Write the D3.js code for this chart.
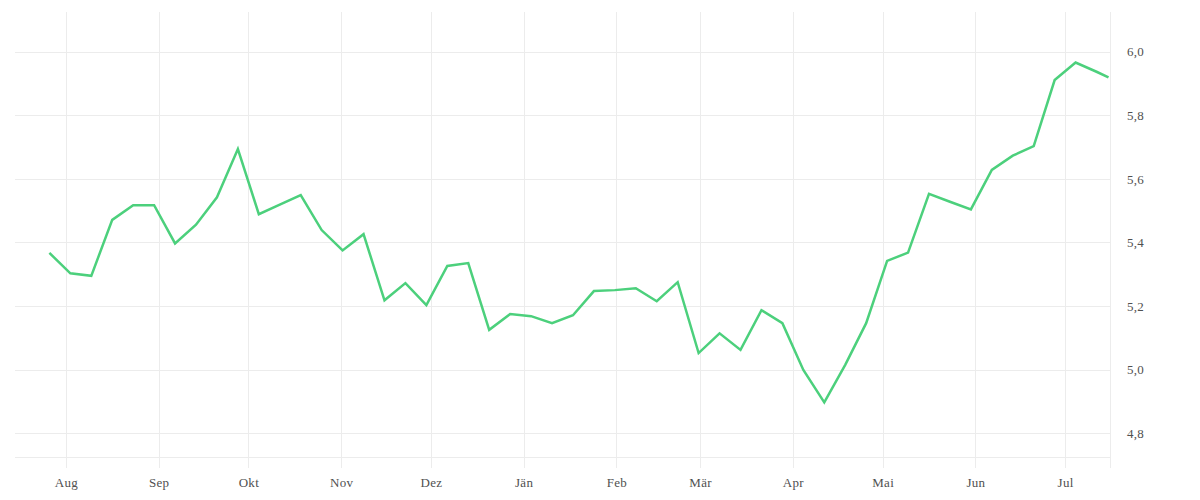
<!DOCTYPE html>
<html>
<head>
<meta charset="utf-8">
<script src="https://cdn.jsdelivr.net/npm/d3@7"></script>
<style>
  html, body { margin: 0; padding: 0; background: #fff; }
  svg { display: block; }
  text { font-family: "Liberation Serif", "DejaVu Serif", serif; }
</style>
</head>
<body>
<svg id="chart" width="1200" height="500"></svg>
<script>
// ---- data ----
const startDate = "2022-07-26 12:00";     // first weekly observation
const lastDate = "2023-07-15 12:00";      // latest (partial week) observation
const values = [
  5.367, 5.303, 5.295, 5.471, 5.517, 5.517, 5.397, 5.456, 5.542, 5.694,
  5.489, 5.519, 5.549, 5.439, 5.375, 5.426, 5.218, 5.272, 5.203, 5.326,
  5.335, 5.125, 5.175, 5.168, 5.146, 5.171, 5.247, 5.250, 5.256, 5.215,
  5.275, 5.052, 5.114, 5.062, 5.187, 5.146, 4.999, 4.897, 5.015, 5.146,
  5.342, 5.368, 5.553, 5.528, 5.504, 5.628, 5.673, 5.703, 5.911, 5.966,
  5.937, 5.919
];
const monthTickDates = ["2022-08-01 00:00","2022-09-01 00:00","2022-10-01 00:00","2022-11-01 00:00",
                        "2022-12-01 00:00","2023-01-01 00:00","2023-02-01 00:00","2023-03-01 00:00",
                        "2023-04-01 00:00","2023-05-01 00:00","2023-06-01 00:00","2023-07-01 00:00"];
const monthLabels = ["Aug","Sep","Okt","Nov","Dez","Jän","Feb","Mär","Apr","Mai","Jun","Jul"];
const yTicks = [4.8, 5.0, 5.2, 5.4, 5.6, 5.8, 6.0];
const xDomain = ["2022-07-15 00:00", "2023-07-16 00:00"];
const yDomain = [4.725, 6.125];

// ---- build dated series ----
const parse = d3.timeParse("%Y-%m-%d %H:%M");
const t0 = parse(startDate);
const data = values.map((v, i) => {
  const d = i === values.length - 1 ? parse(lastDate) : d3.timeDay.offset(t0, 7 * i);
  return { date: d, value: v };
});

// ---- layout ----
const svg = d3.select("#chart");
const plotLeft = 15, plotRight = 1110, plotTop = 12, plotBottom = 457;

const x = d3.scaleTime().domain(xDomain.map(parse)).range([plotLeft, plotRight]);
const y = d3.scaleLinear().domain(yDomain).range([plotBottom, plotTop]);

const gridColor = "#ececec";
const g = svg.append("g");

// horizontal grid lines
g.selectAll("line.hgrid").data(yTicks).join("line")
  .attr("x1", plotLeft).attr("x2", plotRight)
  .attr("y1", d => Math.round(y(d)) + 0.5).attr("y2", d => Math.round(y(d)) + 0.5)
  .attr("stroke", gridColor).attr("stroke-width", 1);

// bottom boundary line
g.append("line")
  .attr("x1", plotLeft).attr("x2", plotRight)
  .attr("y1", plotBottom + 0.5).attr("y2", plotBottom + 0.5)
  .attr("stroke", gridColor).attr("stroke-width", 1);

// vertical grid lines (extend below as ticks)
const tickDates = monthTickDates.map(parse);
g.selectAll("line.vgrid").data(tickDates).join("line")
  .attr("x1", d => Math.round(x(d)) + 0.5).attr("x2", d => Math.round(x(d)) + 0.5)
  .attr("y1", plotTop).attr("y2", plotBottom + 11)
  .attr("stroke", gridColor).attr("stroke-width", 1);

// right border
g.append("line")
  .attr("x1", plotRight + 0.5).attr("x2", plotRight + 0.5)
  .attr("y1", plotTop).attr("y2", plotBottom + 11)
  .attr("stroke", gridColor).attr("stroke-width", 1);

// x axis labels
const xAxis = d3.axisBottom(x).tickValues(tickDates)
  .tickFormat((d, i) => monthLabels[i]).tickSize(0).tickPadding(0);
const xg = svg.append("g").attr("transform", `translate(0, ${plotBottom + 21})`).call(xAxis);
xg.select(".domain").remove();
xg.selectAll("text").attr("font-size", 13).attr("fill", "#505050")
  .attr("letter-spacing", 0.3)
  .attr("font-family", "'Liberation Serif', serif");

// y axis labels (right)
const fmt = d3.formatLocale({ decimal: ",", thousands: ".", grouping: [3], currency: ["", "€"] }).format(".1f");
const yAxis = d3.axisRight(y).tickValues(yTicks).tickFormat(fmt).tickSize(0).tickPadding(0);
const yg = svg.append("g").attr("transform", `translate(${plotRight + 17}, 0)`).call(yAxis);
yg.select(".domain").remove();
yg.selectAll("text").attr("font-size", 13).attr("fill", "#505050")
  .attr("letter-spacing", 0.3)
  .attr("font-family", "'Liberation Serif', serif");

// line
const line = d3.line().x(d => x(d.date)).y(d => y(d.value));
svg.append("path").datum(data)
  .attr("d", line)
  .attr("fill", "none")
  .attr("stroke", "#4cd07c")
  .attr("stroke-width", 2.5)
  .attr("stroke-linejoin", "miter")
  .attr("stroke-linecap", "butt");
</script>
</body>
</html>
